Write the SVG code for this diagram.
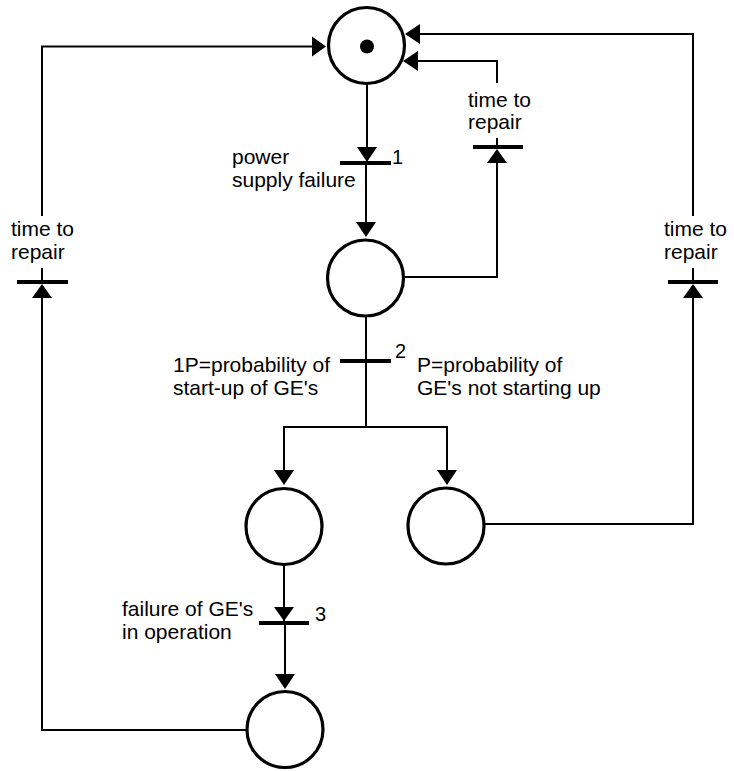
<svg xmlns="http://www.w3.org/2000/svg" width="734" height="771" viewBox="0 0 734 771">
<style>
.place{fill:#fff;stroke:#000;stroke-width:3.2}
.bar{stroke:#000;stroke-width:4;fill:none}
.arc{stroke:#000;stroke-width:2;fill:none}
.head{fill:#000;stroke:none}
text{font-family:"Liberation Sans",Arial,sans-serif;font-size:21px;fill:#000}
.num{font-size:20px}
</style>
<rect width="734" height="771" fill="#fff"/>
<g id="connectors">
  <!-- P0 -> T1 -->
  <path class="arc" d="M367 84 V163"/>
  <polygon class="head" points="357,147 377,147 367,162"/>
  <!-- T1 -> P1 -->
  <path class="arc" d="M366 163 V225"/>
  <polygon class="head" points="356,222 376,222 366,237"/>
  <!-- P1 -> T2 -->
  <path class="arc" d="M366 316 V361"/>
  <!-- T2 -> split -->
  <path class="arc" d="M366 361 V427 M284 471 V427 H447 V471"/>
  <polygon class="head" points="274,470 294,470 284,485"/>
  <polygon class="head" points="437,470 457,470 447,485"/>
  <!-- P2 -> T3 -->
  <path class="arc" d="M284 565 V623"/>
  <polygon class="head" points="274,607 294,607 284,621"/>
  <!-- T3 -> P4 -->
  <path class="arc" d="M285 623 V676"/>
  <polygon class="head" points="275,674 295,674 285,689"/>
  <!-- P4 -> left repair -> P0 -->
  <path class="arc" d="M247 730 H42 V296"/>
  <polygon class="head" points="32,298 52,298 42,284"/>
  <path class="arc" d="M42 268 V282"/>
  <path class="arc" d="M42 216 V46.5 H313"/>
  <polygon class="head" points="312,36.5 312,56.5 326,46.5"/>
  <!-- P3 -> right repair -> P0 -->
  <path class="arc" d="M484 524 H693 V296"/>
  <polygon class="head" points="683,298 703,298 693,284"/>
  <path class="arc" d="M693 268 V282"/>
  <path class="arc" d="M693 216 V34 H418"/>
  <polygon class="head" points="420,24 420,44 405,34"/>
  <!-- P1 -> middle repair -> P0 -->
  <path class="arc" d="M404 277 H497 V161"/>
  <polygon class="head" points="487,163 507,163 497,149"/>
  <path class="arc" d="M497 138 V147"/>
  <path class="arc" d="M497 83 V61 H416"/>
  <polygon class="head" points="418,51 418,71 403,61"/>
</g>
<g id="P0">
  <circle class="place" cx="366.5" cy="45.5" r="38"/>
  <circle cx="367" cy="46.5" r="7" fill="#000"/>
</g>
<g id="P1"><circle class="place" cx="365.5" cy="278" r="38"/></g>
<g id="P2"><circle class="place" cx="284" cy="526.5" r="38"/></g>
<g id="P3"><circle class="place" cx="446" cy="526" r="38"/></g>
<g id="P4"><circle class="place" cx="285" cy="729.5" r="38"/></g>
<g id="T1">
  <line class="bar" x1="340" y1="163" x2="391" y2="163"/>
  <text x="232" y="164">power</text>
  <text x="232" y="187">supply failure</text>
  <text class="num" x="392" y="164">1</text>
</g>
<g id="T2">
  <line class="bar" x1="340" y1="361" x2="391" y2="361"/>
  <text class="num" x="395" y="358">2</text>
  <text x="173" y="372">1P=probability of</text>
  <text x="173" y="395">start-up of GE's</text>
  <text x="417" y="372">P=probability of</text>
  <text x="417" y="395">GE's not starting up</text>
</g>
<g id="T3">
  <line class="bar" x1="259" y1="623" x2="309" y2="623"/>
  <text class="num" x="315" y="621">3</text>
  <text x="122" y="616">failure of GE's</text>
  <text x="122" y="639">in operation</text>
</g>
<g id="T4">
  <line class="bar" x1="17" y1="282" x2="68" y2="282"/>
  <text x="11" y="236">time to</text>
  <text x="11" y="259">repair</text>
</g>
<g id="T5">
  <line class="bar" x1="473" y1="147" x2="523" y2="147"/>
  <text x="468" y="107">time to</text>
  <text x="468" y="129">repair</text>
</g>
<g id="T6">
  <line class="bar" x1="668" y1="282" x2="718" y2="282"/>
  <text x="664" y="236">time to</text>
  <text x="664" y="259">repair</text>
</g>
</svg>
